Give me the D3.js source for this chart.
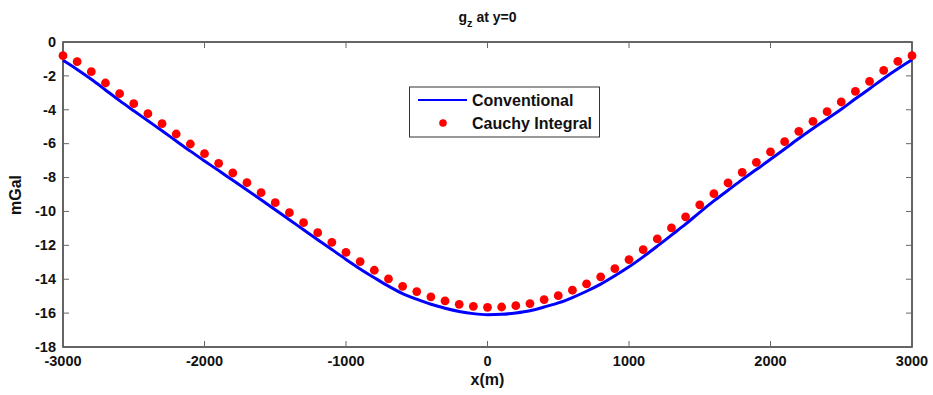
<!DOCTYPE html>
<html>
<head>
<meta charset="utf-8">
<script src="https://cdn.jsdelivr.net/npm/d3@7"></script>
<style>
  html, body { margin: 0; padding: 0; background: #fff; }
  svg { display: block; font-family: "Liberation Sans", Arial, sans-serif; }
</style>
</head>
<body>
<svg id="chart" width="933" height="395"></svg>
<script>
// ---- data ----
const xPositions = [-3000,-2900,-2800,-2700,-2600,-2500,-2400,-2300,-2200,-2100,-2000,-1900,-1800,-1700,-1600,-1500,-1400,-1300,-1200,-1100,-1000,-900,-800,-700,-600,-500,-400,-300,-200,-100,0,100,200,300,400,500,600,700,800,900,1000,1100,1200,1300,1400,1500,1600,1700,1800,1900,2000,2100,2200,2300,2400,2500,2600,2700,2800,2900,3000];
const conventional = [-1.08,-1.62,-2.20,-2.83,-3.46,-4.06,-4.65,-5.24,-5.84,-6.44,-7.02,-7.59,-8.16,-8.73,-9.31,-9.90,-10.49,-11.08,-11.67,-12.25,-12.83,-13.39,-13.91,-14.41,-14.85,-15.18,-15.48,-15.71,-15.90,-16.03,-16.09,-16.07,-15.99,-15.86,-15.64,-15.40,-15.08,-14.71,-14.29,-13.80,-13.27,-12.68,-12.05,-11.40,-10.75,-10.05,-9.38,-8.75,-8.12,-7.53,-6.92,-6.31,-5.70,-5.11,-4.54,-3.97,-3.35,-2.76,-2.15,-1.58,-1.05];
const cauchy = [-0.81,-1.16,-1.75,-2.42,-3.05,-3.64,-4.23,-4.82,-5.43,-6.02,-6.59,-7.16,-7.73,-8.30,-8.89,-9.48,-10.07,-10.66,-11.25,-11.82,-12.41,-12.96,-13.47,-13.98,-14.42,-14.73,-15.04,-15.28,-15.48,-15.60,-15.66,-15.64,-15.56,-15.44,-15.20,-14.97,-14.65,-14.28,-13.86,-13.37,-12.84,-12.25,-11.62,-10.97,-10.32,-9.61,-8.95,-8.32,-7.69,-7.10,-6.49,-5.88,-5.27,-4.68,-4.11,-3.54,-2.91,-2.32,-1.68,-1.14,-0.81];
const xTicks = [-3000,-2000,-1000,0,1000,2000,3000];
const yTicks = [0,-2,-4,-6,-8,-10,-12,-14,-16,-18];
const seriesNames = ["Conventional","Cauchy Integral"];

// ---- layout ----
const svg = d3.select("#chart");
const L = 63, R = 912, T = 42, B = 347;
const x = d3.scaleLinear().domain([-3000, 3000]).range([L, R]);
const y = d3.scaleLinear().domain([-18, 0]).range([B, T]);
const tickLen = 6;

// box
svg.append("rect").attr("x", L).attr("y", T).attr("width", R - L).attr("height", B - T)
  .attr("fill", "none").attr("stroke", "#333").attr("stroke-width", 1.5);

// inward ticks (all four sides)
const tg = svg.append("g").attr("stroke", "#666").attr("stroke-width", 1);
xTicks.forEach(v => {
  tg.append("line").attr("x1", x(v)).attr("x2", x(v)).attr("y1", B).attr("y2", B - tickLen);
  tg.append("line").attr("x1", x(v)).attr("x2", x(v)).attr("y1", T).attr("y2", T + tickLen);
});
yTicks.forEach(v => {
  tg.append("line").attr("y1", y(v)).attr("y2", y(v)).attr("x1", L).attr("x2", L + tickLen);
  tg.append("line").attr("y1", y(v)).attr("y2", y(v)).attr("x1", R).attr("x2", R - tickLen);
});

// tick labels
svg.append("g").selectAll("text").data(xTicks).join("text")
  .attr("x", d => x(d)).attr("y", B + 19)
  .attr("text-anchor", "middle").attr("font-size", 14.5).attr("font-weight", "bold").attr("fill", "#111")
  .text(d => d);
svg.append("g").selectAll("text").data(yTicks).join("text")
  .attr("x", L - 7).attr("y", d => y(d)).attr("dy", "0.33em")
  .attr("text-anchor", "end").attr("font-size", 14.5).attr("font-weight", "bold").attr("fill", "#111")
  .text(d => d);

// axis labels
svg.append("text").attr("x", x(0)).attr("y", 385).attr("text-anchor", "middle")
  .attr("font-size", 16).attr("font-weight", "bold").attr("fill", "#111").text("x(m)");
svg.append("text").attr("transform", "translate(21,195) rotate(-90)").attr("text-anchor", "middle")
  .attr("font-size", 16).attr("font-weight", "bold").attr("fill", "#111").text("mGal");

// title
const title = svg.append("text").attr("x", x(0)).attr("y", 22).attr("text-anchor", "middle")
  .attr("font-size", 14).attr("font-weight", "bold").attr("fill", "#111");
title.append("tspan").text("g");
title.append("tspan").attr("font-size", 11).attr("dy", 5).text("z");
title.append("tspan").attr("dy", -5).text(" at y=0");

// conventional line
const line = d3.line().x((d, i) => x(xPositions[i])).y(d => y(d)).curve(d3.curveMonotoneX);
svg.append("path").datum(conventional).attr("d", line)
  .attr("fill", "none").attr("stroke", "#0000ff").attr("stroke-width", 3);

// cauchy dots
svg.append("g").selectAll("circle").data(cauchy).join("circle")
  .attr("cx", (d, i) => x(xPositions[i])).attr("cy", d => y(d)).attr("r", 4.4)
  .attr("fill", "#ff0000");

// legend
const lg = svg.append("g");
lg.append("rect").attr("x", 409.5).attr("y", 87).attr("width", 190).attr("height", 50)
  .attr("fill", "#fff").attr("stroke", "#333").attr("stroke-width", 1);
lg.append("line").attr("x1", 418).attr("x2", 467).attr("y1", 100).attr("y2", 100)
  .attr("stroke", "#0000ff").attr("stroke-width", 2.2);
lg.append("circle").attr("cx", 443).attr("cy", 123).attr("r", 3.8).attr("fill", "#ff0000");
lg.selectAll("text.lt").data(seriesNames).join("text").attr("class", "lt")
  .attr("x", 472).attr("y", (d, i) => 100 + i * 23).attr("dy", "0.36em")
  .attr("font-size", 16).attr("font-weight", "bold").attr("fill", "#111")
  .text(d => d);
</script>
</body>
</html>
